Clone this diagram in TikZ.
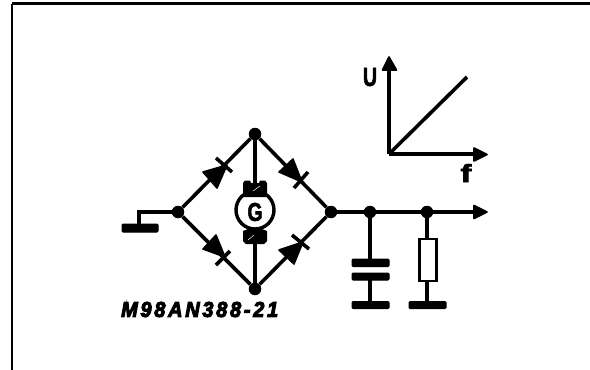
\documentclass[tikz,border=0pt]{standalone}
\usepackage{fontspec}
\usepackage{graphicx}
\setmainfont{Liberation Sans}
\newfontfamily\heavyfont[FakeBold=2.5,ItalicFont={Liberation Sans Bold Italic},ItalicFeatures={FakeBold=5}]{Liberation Sans Bold}
\tikzset{
  wire/.style={line width=3.6pt,black},
  dotn/.style={circle,fill=black,inner sep=0pt,minimum size=12.5pt},
  plate/.style={fill=black,draw=black,line width=1pt,rounded corners=1pt},
  tri/.style={fill=black,draw=black,line width=1.6pt,line join=round},
  bar/.style={line width=3.6pt,black},
  lbl/.style={inner sep=0pt,font=\heavyfont}
}
\begin{document}
\begin{tikzpicture}[x=1pt,y=-1pt]
\useasboundingbox (0,0) rectangle (590,370);
\fill[white] (0,0) rectangle (590,370);
% frame
\coordinate (fa) at (590,3.5);
\coordinate (fb) at (12,3.5);
\coordinate (fc) at (12,370);
\draw[line width=3pt,black] (fa) -- (fb);
\draw[line width=2pt,black] (fb) -- (fc);
% junctions
\node[dotn] (L) at (178,212) {};
\node[dotn] (T) at (255,134) {};
\node[dotn] (R) at (331,212) {};
\node[dotn] (B) at (255,289) {};
\node[dotn] (J1) at (370,212) {};
\node[dotn] (J2) at (427,212) {};
% bridge
\draw[wire] (L) -- (T) -- (R) -- (B) -- (L);
% generator
\coordinate (BT) at (255,188);
\coordinate (BB) at (255,237);
\draw[wire] (T) -- (BT);
\draw[wire] (B) -- (BB);
\node[circle,draw=black,fill=white,line width=3.4pt,minimum size=38pt,inner sep=0pt] (G) at (255,210) {};
\path[fill=black] (243,197) -- (243,183) -- (245,180.5) -- (250,180.5) -- (251,183) -- (259,183) -- (260,180.5) -- (265,180.5) -- (267,183) -- (267,197) -- cycle;
\path[fill=black] (243,231) -- (248,229) -- (262,229) -- (267,231) -- (267,241) -- (264,244) -- (246,244) -- (243,241) -- cycle;
\draw[white,line width=0.5pt] (253,191) -- (260,186);
\draw[white,line width=0.5pt] (248,240) -- (254,235);
\node[lbl] at (255,212) {\resizebox{15pt}{18pt}{G}};
% diodes
\draw[tri] (227,165) -- (203,172) -- (217,188) -- cycle;
\draw[bar] (216,158) -- (232,172);
\draw[tri] (302,182) -- (293,159) -- (279,172) -- cycle;
\draw[bar] (308,172) -- (294,188);
\draw[tri] (225,257) -- (216,235) -- (203,249) -- cycle;
\draw[bar] (230,251) -- (216,265);
\draw[tri] (303,242) -- (279,250) -- (294,264) -- cycle;
\draw[bar] (292,235) -- (309,249);
% ground on the left
\coordinate (GL) at (139,212);
\coordinate (GLb) at (139,227);
\draw[wire] (L) -- (GL) -- (GLb);
\draw[plate] (122,224) rectangle (158,232);
% output
\coordinate (OutEnd) at (476,212);
\draw[wire] (R) -- (OutEnd);
\draw[tri] (487,212) -- (474,205.5) -- (474,218.5) -- cycle;
% capacitor
\coordinate (C1) at (370,262);
\coordinate (C2) at (370,277);
\coordinate (C3) at (370,305);
\draw[wire] (J1) -- (C1);
\draw[wire] (C2) -- (C3);
\draw[plate] (352,259) rectangle (389,266.5);
\draw[plate] (352,273) rectangle (389,280);
\draw[plate] (352,301.5) rectangle (389,308.5);
% resistor
\coordinate (Rg) at (427,305);
\node[draw=black,line width=2.6pt,fill=white,minimum width=16.5pt,minimum height=42pt,inner sep=0pt] (Res) at (428,260) {};
\draw[wire] (J2) -- (Res.north -| J2);
\draw[wire] (Res.south -| J2) -- (Rg);
\draw[plate] (409,301.5) rectangle (446,308.5);
% graph
\coordinate (O) at (389,154);
\coordinate (Yt) at (389,68);
\coordinate (Xt) at (476,154);
\coordinate (Dg) at (467,77);
\draw[wire] (O) -- (Yt);
\draw[wire] (O) -- (Xt);
\draw[wire] (O) -- (Dg);
\draw[tri] (389,57) -- (382.5,70) -- (396.5,70) -- cycle;
\draw[tri] (487,154.5) -- (474,148) -- (474,161) -- cycle;
\node[lbl] (lU) at (370,77) {\resizebox{14pt}{18pt}{U}};
\node[lbl] (lf) at (466,173) {\resizebox{11pt}{18pt}{f}};
% code
\node[lbl,anchor=west] (code) at (121,309.5) {\resizebox{157pt}{15pt}{\addfontfeature{LetterSpace=14}\itshape M98AN388-21}};
\end{tikzpicture}
\end{document}
